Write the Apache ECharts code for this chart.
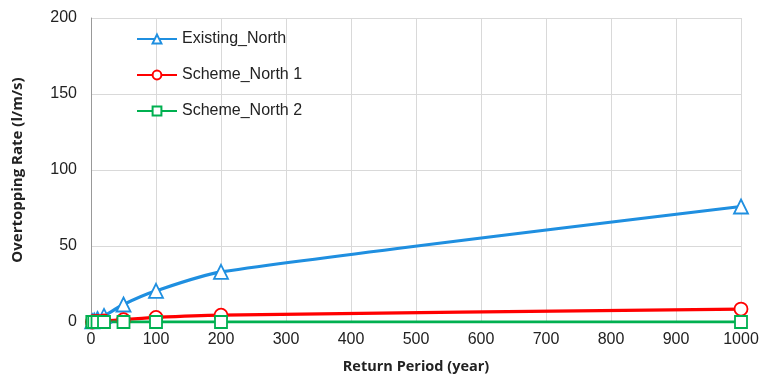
<!DOCTYPE html>
<html>
<head>
<meta charset="utf-8">
<script src="https://cdn.jsdelivr.net/npm/echarts@6/dist/echarts.min.js"></script>
<style>
  html, body { margin: 0; padding: 0; background: #fff; }
  #chart { width: 762px; height: 383px; }
</style>
</head>
<body>
<div id="chart"></div>
<script>
// Return periods (years) and overtopping rates (l/m/s)
const returnPeriods = [2, 5, 10, 20, 50, 100, 200, 1000];
const existingNorth = [0.5, 1, 2, 4, 11.5, 20.5, 33, 76];
const schemeNorth1 = [0, 0.2, 0.4, 0.7, 1.5, 3, 4.5, 8.5];
const schemeNorth2 = [0, 0, 0, 0, 0, 0, 0, 0];
const seriesNames = ['Existing_North', 'Scheme_North 1', 'Scheme_North 2'];

const pairs = (ys) => returnPeriods.map((x, i) => [x, ys[i]]);

const chart = echarts.init(document.getElementById('chart'));
const baseFont = 'Liberation Sans, Arial, sans-serif';
const titleFont = 'Open Sans, Liberation Sans, sans-serif';

function lineSeries(name, data, color, symbol, size) {
  return {
    name: name,
    type: 'line',
    data: pairs(data),
    smooth: 0.25,
    symbol: symbol,
    symbolSize: size,
    showAllSymbol: true,
    lineStyle: { color: color, width: 3.2 },
    itemStyle: { color: '#fff', borderColor: color, borderWidth: 1.8 },
    emphasis: { disabled: true }
  };
}

chart.setOption({
  animation: false,
  grid: { left: 91, right: 21, top: 18, bottom: 61 },
  legend: {
    orient: 'vertical',
    left: 131,
    top: 26,
    itemGap: 20,
    itemWidth: 40,
    itemHeight: 11,
    textStyle: { fontFamily: baseFont, fontSize: 16, color: '#222' },
    data: seriesNames
  },
  xAxis: {
    type: 'value',
    min: 0,
    max: 1000,
    interval: 100,
    name: 'Return Period (year)',
    nameLocation: 'middle',
    nameGap: 37,
    nameTextStyle: { fontFamily: titleFont, fontWeight: 'bold', fontSize: 14.5, color: '#222' },
    axisLine: { lineStyle: { color: '#999' } },
    axisTick: { show: false },
    axisLabel: { fontFamily: baseFont, fontSize: 16, color: '#222', margin: 10, formatter: (v) => String(v) },
    splitLine: { lineStyle: { color: '#d9d9d9' } }
  },
  yAxis: {
    type: 'value',
    min: 0,
    max: 200,
    interval: 50,
    name: 'Overtopping Rate (l/m/s)',
    nameLocation: 'middle',
    nameGap: 66,
    nameTextStyle: { fontFamily: titleFont, fontWeight: 'bold', fontSize: 15, color: '#222' },
    axisLine: { show: true, lineStyle: { color: '#999' } },
    axisTick: { show: false },
    axisLabel: { fontFamily: baseFont, fontSize: 16, color: '#222', margin: 14 },
    splitLine: { lineStyle: { color: '#d9d9d9' } }
  },
  series: [
    lineSeries(seriesNames[0], existingNorth, '#1f8fe0', 'triangle', 14),
    lineSeries(seriesNames[1], schemeNorth1, '#ff0000', 'circle', 13),
    lineSeries(seriesNames[2], schemeNorth2, '#00b050', 'rect', 12)
  ]
});
</script>
</body>
</html>
